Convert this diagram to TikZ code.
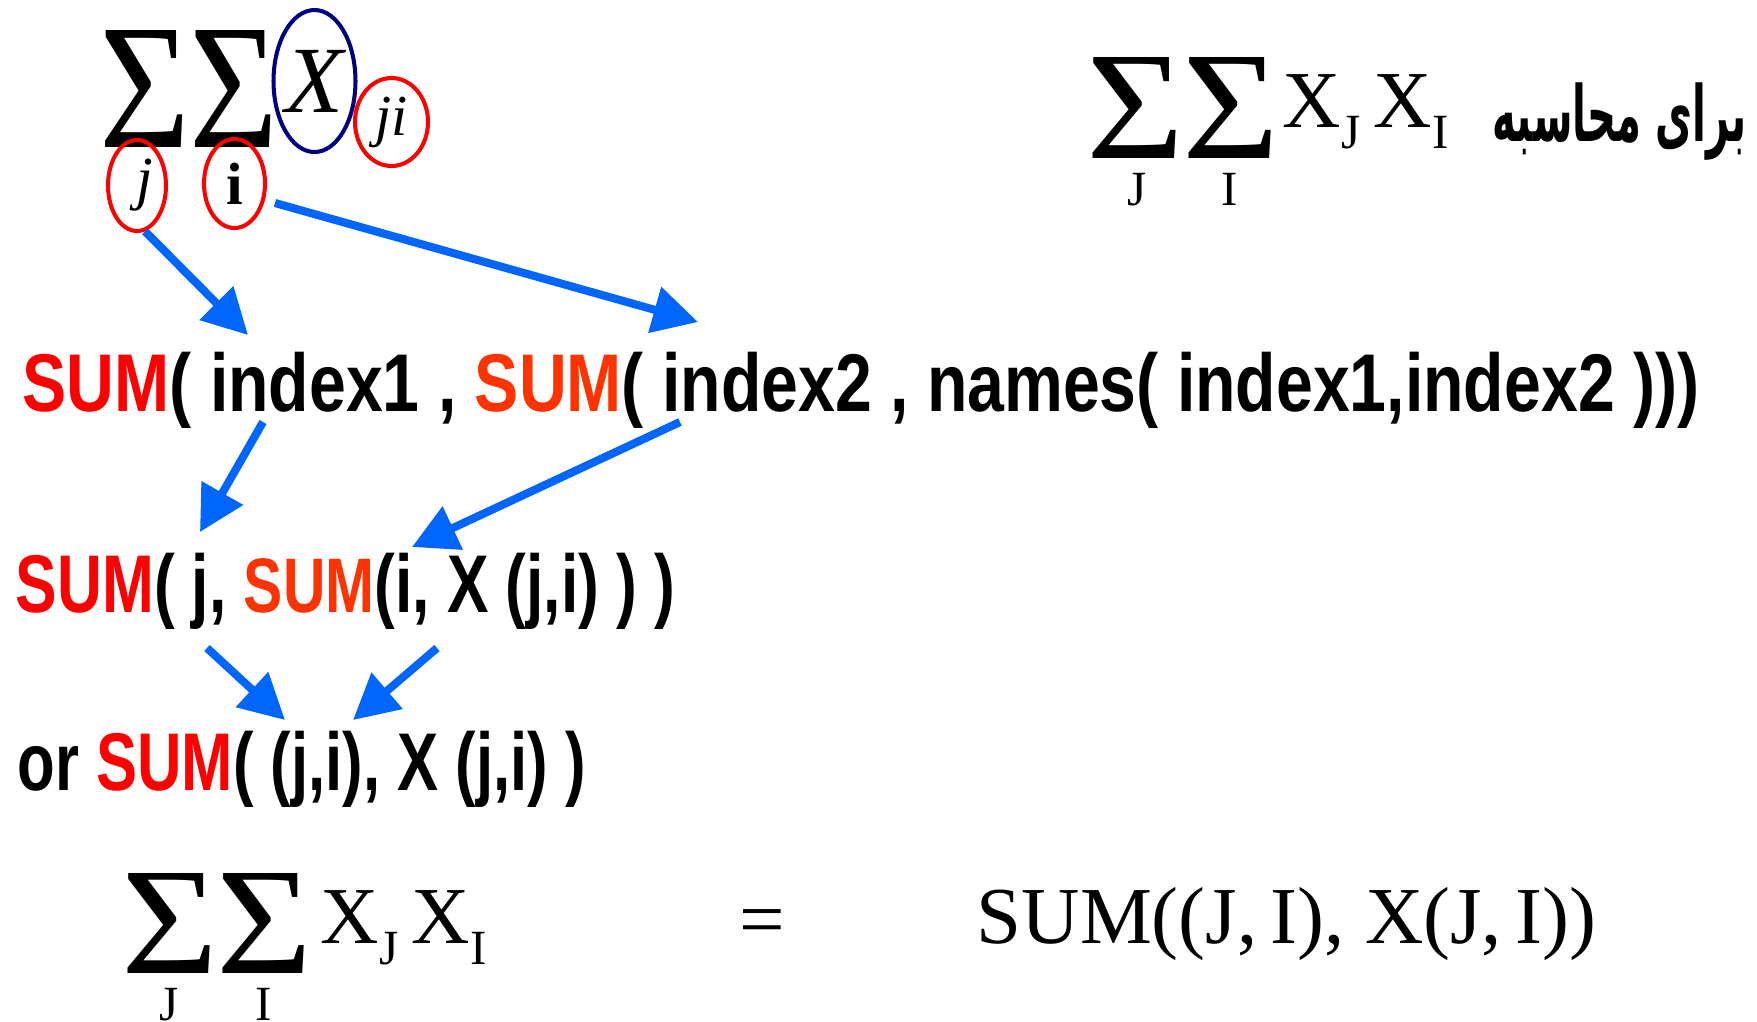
\documentclass[tikz,border=0pt]{standalone}
\usepackage{xcolor}
\usepackage{graphicx}
\usepackage{fontspec}
\setmainfont{Liberation Serif}
\newfontfamily\codefont[FakeStretch=0.8]{Liberation Sans}
\newfontfamily\farsifont[Script=Arabic]{DejaVu Sans}
\TeXXeTstate=1
\usepackage{tikz}
\usetikzlibrary{arrows.meta, positioning, calc, shapes.geometric}
\definecolor{sumred}{RGB}{255,0,0}
\definecolor{sumorange}{RGB}{255,51,0}
\definecolor{arrowblue}{RGB}{0,102,255}
\definecolor{ringnavy}{RGB}{0,0,128}
\tikzset{
  ring/.style={draw=#1, ellipse, line width=1.15pt, inner sep=0pt},
  sig/.style={inner sep=0pt},
  code/.style={anchor=base west, inner sep=0pt, font=\codefont\bfseries\fontsize{23.3}{28}\selectfont},
  formula/.style={anchor=base west, inner sep=0pt, font=\fontsize{23}{27}\selectfont},
  limit/.style={anchor=base, inner sep=0pt, font=\fontsize{14}{16}\selectfont},
  link/.style={-{Triangle[length=4.5mm, width=4.6mm]}, line width=2.3pt, draw=arrowblue}
}
\newcommand{\bigsum}[2]{\resizebox*{#1}{#2}{Σ}}
\newcommand{\sub}[1]{\raisebox{-2.1mm}{\fontsize{14}{16}\selectfont #1}}

\begin{document}
\begin{tikzpicture}
    \useasboundingbox (0,0) rectangle (17.57,-10.21);

    % Double sum with circled indices
    \node[sig] (sigj) at (1.445,-0.885) {\bigsum{0.91cm}{1.17cm}};
    \node[sig] (sigi) at (2.335,-0.885) {\bigsum{0.89cm}{1.17cm}};
    \node[ring=ringnavy, minimum width=0.77cm, minimum height=1.42cm] (xring) at (3.145,-0.81)
        {\fontsize{27}{30}\selectfont\itshape X};
    \node[ring=red, minimum width=0.73cm, minimum height=0.88cm] (jiring) at (3.915,-1.22)
        {\fontsize{16.5}{18}\selectfont\itshape ji};
    \node[ring=red, minimum width=0.58cm, minimum height=0.91cm] (jring) at (1.37,-1.855)
        {\fontsize{17}{19}\selectfont\itshape \hspace{1.5mm}j};
    \node[ring=red, minimum width=0.61cm, minimum height=0.89cm] (iring) at (2.345,-1.835)
        {\fontsize{17}{19}\selectfont\bfseries i};

    % Formula and label, top right
    \node[sig] (rsigj) at (11.355,-1.075) {\bigsum{0.98cm}{1.01cm}};
    \node[sig] (rsigi) at (12.31,-1.075) {\bigsum{0.97cm}{1.01cm}};
    \node[formula] (rprod) at (12.82,-1.27) {X\sub{J}\,X\sub{I}};
    \node[limit] (rlimj) at (11.37,-2.05) {J};
    \node[limit] (rlimi) at (12.30,-2.05) {I};
    \node[anchor=east, inner sep=0pt] (farsi) at (17.47,-1.215)
        {\scalebox{0.52}[1]{\farsifont\bfseries\fontsize{22}{25}\selectfont\beginR برای محاسبه\endR}};

    % Code lines
    \node[code] (sumnest) at (0.22,-4.11)
        {\scalebox{1.01}[1]{\textcolor{sumred}{SUM}( index1 , \textcolor{sumorange}{SUM}( index2 , names( index1,index2 )))}};
    \node[code] (sumji) at (0.15,-6.12)
        {\scalebox{0.95}[1]{\textcolor{sumred}{SUM}( j, \textcolor{sumorange}{\fontsize{22}{25}\selectfont SUM}(i, X (j,i) ) )}};
    \node[code] (sumpair) at (0.17,-7.90)
        {\scalebox{0.94}[1]{or \textcolor{sumred}{SUM}( (j,i), X (j,i) )}};

    % Bottom equation
    \node[sig] (bsigj) at (1.70,-9.23) {\bigsum{0.97cm}{1.00cm}};
    \node[sig] (bsigi) at (2.64,-9.23) {\bigsum{0.96cm}{1.00cm}};
    \node[formula] (bprod) at (3.20,-9.43) {X\sub{J}\,X\sub{I}};
    \node[limit] (blimj) at (1.695,-10.20) {J};
    \node[limit] (blimi) at (2.635,-10.20) {I};
    \node[inner sep=0pt, font=\fontsize{23}{27}\selectfont] (eq) at (7.625,-9.285) {=};
    \node[formula] (sumrhs) at (9.76,-9.43) {SUM((J,\,I), X(J,\,I))};

    % Arrow ends
    \coordinate (s2) at (2.75,-2.03);
    \coordinate (t1) at (2.48,-3.35);
    \coordinate (t2) at (6.98,-3.22);
    \coordinate (s3) at (2.63,-4.22);
    \coordinate (t3) at (2.00,-5.32);
    \coordinate (s4) at (6.80,-4.22);
    \coordinate (t4) at (4.12,-5.47);
    \coordinate (s5) at (2.07,-6.48);
    \coordinate (t5) at (2.85,-7.20);
    \coordinate (s6) at (4.37,-6.48);
    \coordinate (t6) at (3.53,-7.20);

    % Arrows
    \draw[link] (jring.-80) -- (t1);
    \draw[link] (s2) -- (t2);
    \draw[link] (s3) -- (t3);
    \draw[link] (s4) -- (t4);
    \draw[link] (s5) -- (t5);
    \draw[link] (s6) -- (t6);
\end{tikzpicture}
\end{document}
